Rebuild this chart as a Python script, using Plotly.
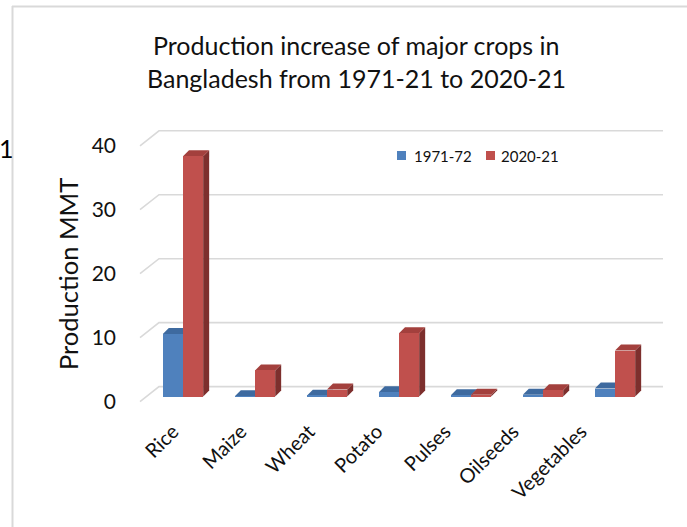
import plotly.graph_objects as go

# Crop production in Bangladesh, million metric tonnes
crops = ["Rice", "Maize", "Wheat", "Potato", "Pulses", "Oilseeds", "Vegetables"]
prod_1971_72 = [9.8, 0.05, 0.15, 0.7, 0.2, 0.3, 1.25]
prod_2020_21 = [37.6, 4.1, 1.1, 9.9, 0.3, 1.0, 7.2]
series_names = ["1971-72", "2020-21"]
y_ticks = [0, 10, 20, 30, 40]

FONT = "Lato"
TEXT = "#111111"
W, H = 687, 527
M = dict(l=129, r=18, t=128, b=124)
x_range = [-0.75, 6.75]
y_range = [-1.0, 42.0]
plot_w = W - M["l"] - M["r"]
plot_h = H - M["t"] - M["b"]
ux = plot_w / (x_range[1] - x_range[0])   # pixels per x unit
uy = plot_h / (y_range[1] - y_range[0])   # pixels per y unit


def ddx(p):
    return p / ux


def ddy(p):
    return p / uy


def paper_x(px):
    return (px - M["l"]) / plot_w


def paper_y(py):
    return (H - M["b"] - py) / plot_h


# face colours for the pseudo-3D columns: front, top, side
palette = {
    "1971-72": ("#4f81bd", "#3e6a9f", "#385d8a"),
    "2020-21": ("#c0504d", "#a3403d", "#7d2f2d"),
}

bar_w = 0.28
depth_x, depth_y = ddx(6), ddy(6)          # column depth
wall_back = (ddx(12), ddy(10))             # back wall offset
wall_front = (ddx(7), ddy(5))              # front edge offset
x_left, x_right = -0.5, len(crops) - 0.5

# category labels sit on the receding front edge, so they drift left
label_pos = [i - ddx(10 + 4 * i) for i in range(len(crops))]

shapes = []

# grid lines on the back wall plus the diagonal along the side wall
for g in y_ticks:
    path = (
        f"M {x_left - wall_front[0]},{g - wall_front[1]} "
        f"L {x_left + wall_back[0]},{g + wall_back[1]} "
        f"L {x_right + wall_back[0]},{g + wall_back[1]}"
    )
    shapes.append(dict(type="path", path=path, xref="x", yref="y",
                       line=dict(color="#d9d9d9", width=1.6), layer="below"))

fig = go.Figure()

series = [prod_1971_72, prod_2020_21]
offsets = [-bar_w / 2, bar_w / 2]
for name, vals, off in zip(series_names, series, offsets):
    front, top, side = palette[name]
    for i, v in enumerate(vals):
        xl = i + off - bar_w / 2
        xr = i + off + bar_w / 2
        top_path = (f"M {xl},{v} L {xr},{v} L {xr + depth_x},{v + depth_y} "
                    f"L {xl + depth_x},{v + depth_y} Z")
        side_path = (f"M {xr},0 L {xr},{v} L {xr + depth_x},{v + depth_y} "
                     f"L {xr + depth_x},{depth_y} Z")
        shapes.append(dict(type="path", path=side_path, xref="x", yref="y",
                           fillcolor=side, line=dict(width=0), layer="below"))
        shapes.append(dict(type="path", path=top_path, xref="x", yref="y",
                           fillcolor=top, line=dict(width=0), layer="below"))
    fig.add_trace(go.Bar(
        x=[i + off for i in range(len(crops))],
        y=vals,
        width=bar_w,
        name=name,
        marker=dict(color=front, line=dict(width=0)),
        hovertext=crops,
        showlegend=False,
    ))

# outer frame of the chart area
shapes.append(dict(type="line", xref="paper", yref="paper",
                   x0=paper_x(12.5), x1=paper_x(12.5), y0=paper_y(6), y1=paper_y(530),
                   line=dict(color="#d9d9d9", width=2)))
shapes.append(dict(type="line", xref="paper", yref="paper",
                   x0=paper_x(12), x1=paper_x(690), y0=paper_y(6.5), y1=paper_y(6.5),
                   line=dict(color="#d9d9d9", width=2)))

annotations = [
    dict(text="Production increase of major crops in", x=paper_x(356), y=paper_y(45),
         xref="paper", yref="paper", showarrow=False, xanchor="center", yanchor="middle",
         font=dict(family=FONT, size=25, color=TEXT)),
    dict(text="Bangladesh from 1971-21 to 2020-21", x=paper_x(356), y=paper_y(78),
         xref="paper", yref="paper", showarrow=False, xanchor="center", yanchor="middle",
         font=dict(family=FONT, size=25, color=TEXT)),
    dict(text="Production MMT", x=paper_x(68), y=paper_y(274), textangle=-90,
         xref="paper", yref="paper", showarrow=False, xanchor="center", yanchor="middle",
         font=dict(family=FONT, size=25.5, color=TEXT)),
    dict(text="1", x=paper_x(-3), y=paper_y(148),
         xref="paper", yref="paper", showarrow=False, xanchor="left", yanchor="middle",
         font=dict(family=FONT, size=25, color="#000000")),
]

# legend: small square swatch followed by the series name
legend_items = [(397, 412), (486, 499)]
for name, (sq_x, tx_x) in zip(series_names, legend_items):
    shapes.append(dict(type="rect", xref="paper", yref="paper",
                       x0=paper_x(sq_x), x1=paper_x(sq_x + 9),
                       y0=paper_y(151), y1=paper_y(160),
                       fillcolor=palette[name][0], line=dict(width=0)))
    annotations.append(dict(text=name, x=paper_x(tx_x), y=paper_y(155.5),
                            xref="paper", yref="paper", showarrow=False,
                            xanchor="left", yanchor="middle",
                            font=dict(family=FONT, size=15, color=TEXT)))

fig.update_layout(
    width=W, height=H,
    margin=M,
    paper_bgcolor="white",
    plot_bgcolor="white",
    barmode="overlay",
    bargap=0,
    shapes=shapes,
    annotations=annotations,
    showlegend=False,
    xaxis=dict(range=x_range, tickmode="array", tickvals=label_pos,
               ticktext=crops, tickangle=-45, showgrid=False, zeroline=False,
               showline=False, ticks="", ticklabelstandoff=12,
               tickfont=dict(family=FONT, size=20, color=TEXT)),
    yaxis=dict(range=y_range, tickmode="array", tickvals=y_ticks, showgrid=False,
               zeroline=False, showline=False, ticks="", ticklabelstandoff=12,
               ticklabelshift=5,
               tickfont=dict(family=FONT, size=21, color=TEXT)),
)

fig.write_html("out.html")
